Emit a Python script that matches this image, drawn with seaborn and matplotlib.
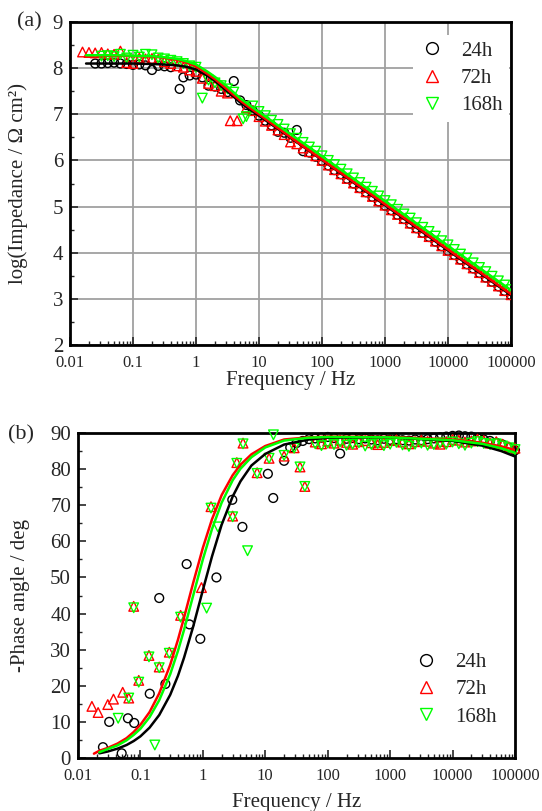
import matplotlib
matplotlib.use("Agg")
import matplotlib.pyplot as plt
import numpy as np
import pandas as pd
import seaborn as sns
from matplotlib.ticker import LogLocator, MultipleLocator, FixedLocator, FixedFormatter, NullFormatter
from matplotlib.lines import Line2D

# ---------------- data ----------------
SERIES = ["24h", "72h", "168h"]
COLORS = ["#000000", "#ff0000", "#00ff00"]
MARKERS = ["o", "^", "v"]

# shared high-frequency grid (Hz)
F_HF = [63.1, 79.4, 100, 126, 158, 200, 251, 316, 398, 501, 631, 794, 1000, 1260, 1580,
        2000, 2510, 3160, 3980, 5010, 6310, 7940, 10000, 12600, 15800, 20000, 25100,
        31600, 39800, 50100, 63100, 79400, 100000]

# ---- (a) log|Z| data ----
imp_lf_f_24 = [0.0251, 0.0316, 0.0398, 0.0501, 0.0631, 0.0794, 0.1, 0.126, 0.158, 0.2, 0.251,
               0.316, 0.398, 0.55, 0.631, 0.794, 1, 1.26, 1.58, 2, 2.51, 3.16, 3.98, 5.01,
               6.31, 7.94, 10, 12.6, 15.8, 20, 25.1, 31.6, 39.8, 50.1]
imp_lf_24 = [8.10, 8.10, 8.11, 8.12, 8.10, 8.09, 8.07, 8.08, 8.06, 7.96, 8.05, 8.04, 8.02, 7.55,
             7.80, 7.84, 7.86, 7.80, 7.62, 7.60, 7.55, 7.48, 7.72, 7.30, 7.20, 7.08, 6.97, 6.86,
             6.76, 6.62, 6.60, 6.49, 6.66, 6.20]
imp_hf_24 = [6.17, 6.08, 5.99, 5.89, 5.79, 5.70, 5.60, 5.50, 5.40, 5.31, 5.21, 5.11, 5.02, 4.92,
             4.82, 4.73, 4.63, 4.53, 4.43, 4.34, 4.24, 4.14, 4.04, 3.95, 3.85, 3.75, 3.66, 3.56,
             3.46, 3.37, 3.27, 3.17, 3.08]

imp_lf_f_72 = [0.0158, 0.02, 0.0251, 0.0316, 0.0398, 0.0501, 0.0631, 0.0794, 0.1, 0.126, 0.158,
               0.2, 0.251, 0.316, 0.398, 0.501, 0.631, 0.794, 1, 1.26, 1.58, 2, 2.51, 3.16, 3.5,
               4.5, 6.31, 7.94, 10, 12.6, 15.8, 20, 25.1, 31.6, 39.8, 50.1]
imp_lf_72 = [8.35, 8.34, 8.33, 8.34, 8.31, 8.30, 8.37, 8.12, 8.10, 8.22, 8.20, 8.21, 8.19, 8.14,
             8.10, 8.05, 8.02, 7.96, 7.93, 7.78, 7.67, 7.62, 7.50, 7.46, 6.86, 6.86, 7.14, 7.08,
             6.95, 6.85, 6.76, 6.66, 6.56, 6.40, 6.36, 6.27]
imp_hf_72 = [6.19, 6.10, 6.00, 5.90, 5.80, 5.71, 5.61, 5.51, 5.41, 5.32, 5.22, 5.12, 5.03, 4.93,
             4.83, 4.74, 4.64, 4.54, 4.44, 4.35, 4.25, 4.15, 4.05, 3.96, 3.86, 3.76, 3.67, 3.57,
             3.47, 3.38, 3.28, 3.18, 3.09]

imp_lf_f_168 = [0.0316, 0.0398, 0.0501, 0.0631, 0.0794, 0.1, 0.126, 0.158, 0.2, 0.251, 0.316,
                0.398, 0.501, 0.631, 0.794, 1, 1.26, 1.58, 2, 2.51, 3.16, 3.98, 5.6, 6.31, 7.94,
                10, 12.6, 15.8, 20, 25.1, 31.6, 39.8, 50.1]
imp_lf_168 = [8.26, 8.27, 8.25, 8.30, 8.22, 8.28, 8.24, 8.30, 8.29, 8.22, 8.20, 8.17, 8.14, 8.10,
              8.05, 8.02, 7.35, 7.74, 7.68, 7.62, 7.55, 7.48, 6.90, 6.95, 7.18, 7.06, 6.97, 6.87,
              6.78, 6.68, 6.58, 6.48, 6.39]
imp_hf_168 = [6.29, 6.20, 6.10, 6.00, 5.91, 5.81, 5.71, 5.62, 5.52, 5.42, 5.33, 5.23, 5.13, 5.04,
              4.94, 4.84, 4.75, 4.65, 4.55, 4.46, 4.36, 4.26, 4.17, 4.07, 3.97, 3.88, 3.78, 3.68,
              3.59, 3.49, 3.39, 3.30, 3.20]

# ---- (a) fitted curves ----
F_FIT_Z = [0.018, 0.05, 0.1, 0.2, 0.3, 0.5, 0.7, 1, 1.5, 2, 3, 5, 7, 10, 20, 50, 100, 1000,
           10000, 100000]
fit_z_24 = [8.10, 8.10, 8.10, 8.09, 8.08, 8.06, 8.03, 7.97, 7.84, 7.72, 7.52, 7.26, 7.11, 6.97,
            6.68, 6.30, 6.01, 5.03, 4.05, 3.08]
fit_z_72 = [8.27, 8.27, 8.26, 8.25, 8.23, 8.18, 8.12, 8.04, 7.88, 7.76, 7.56, 7.30, 7.15, 7.00,
            6.70, 6.31, 6.02, 5.05, 4.07, 3.10]
fit_z_168 = [8.28, 8.28, 8.27, 8.26, 8.24, 8.20, 8.15, 8.08, 7.93, 7.81, 7.62, 7.35, 7.20, 7.05,
             6.76, 6.38, 6.09, 5.12, 4.15, 3.19]

# ---- (b) -phase data ----
ph_lf_f_24 = [0.0251, 0.0316, 0.0501, 0.0631, 0.0794, 0.141, 0.2, 0.251, 0.55, 0.61, 0.91, 1.65,
              2.96, 4.3, 11, 13.4, 20, 25.1, 31.6, 39.8, 50.1]
ph_lf_24 = [3.0, 10.0, 1.3, 11.0, 9.7, 17.8, 44.3, 20.5, 53.7, 37.0, 33.0, 50.0, 71.5, 64.0, 78.7,
            72.0, 82.3, 86.0, 87.2, 87.8, 88.3]
ph_hf_24 = [88.5, 88.7, 88.9, 88.6, 84.3, 88.4, 88.6, 88.3, 88.5, 88.2, 88.0, 88.4, 88.1, 88.3,
            88.0, 87.9, 88.2, 88.0, 88.3, 88.5, 88.8, 89.0, 89.2, 89.3, 89.1, 89.0, 88.6, 88.2,
            87.8, 87.3, 86.8, 86.0, 85.2]

ph_lf_f_72 = [0.0167, 0.021, 0.030, 0.037, 0.052, 0.065, 0.078, 0.094, 0.137, 0.2, 0.29, 0.44,
              0.95, 1.35, 3.0, 3.5, 4.4, 7.4, 11.5, 20, 29, 36, 43]
ph_lf_72 = [14.3, 12.6, 14.8, 16.3, 18.2, 16.6, 42.0, 21.5, 28.4, 25.2, 29.3, 39.5, 47.2, 69.6,
            67.0, 81.8, 87.2, 79.0, 83.0, 83.6, 85.9, 80.6, 75.2]
ph_hf_72 = [87.5, 87.0, 87.8, 87.2, 88.0, 87.4, 86.9, 87.6, 87.9, 87.3, 86.8, 87.4, 87.9, 88.1,
            87.5, 87.0, 87.6, 88.0, 87.7, 87.2, 86.9, 87.6, 88.2, 88.0, 87.5, 87.8, 88.3, 87.9,
            87.2, 87.6, 86.9, 86.2, 85.8]

ph_lf_f_168 = [0.044, 0.065, 0.078, 0.094, 0.137, 0.17, 0.2, 0.29, 0.44, 1.15, 1.35, 1.74, 3.0,
               3.5, 4.4, 5.2, 7.4, 11.5, 13.5, 20, 29, 36, 43]
ph_lf_168 = [11.0, 16.6, 41.6, 21.0, 28.0, 3.6, 25.0, 29.0, 39.0, 41.5, 69.2, 64.0, 66.8, 81.6,
             87.0, 57.4, 78.8, 83.0, 89.5, 83.8, 85.8, 80.6, 75.2]
ph_hf_168 = [87.0, 86.5, 87.2, 86.8, 87.5, 86.6, 86.9, 87.3, 86.4, 86.8, 87.1, 86.5, 86.9, 87.4,
             86.7, 86.3, 86.9, 87.2, 86.6, 86.8, 87.3, 86.9, 87.5, 87.0, 86.6, 87.2, 87.6, 87.1,
             86.8, 87.0, 86.4, 85.9, 85.4]

# ---- (b) fitted curves ----
F_FIT_P = [0.018, 0.022, 0.03, 0.043, 0.06, 0.078, 0.1, 0.14, 0.2, 0.3, 0.4, 0.5, 0.7, 1, 1.4, 2,
           3, 4, 6, 10, 20, 50, 100, 1000, 10000, 30000, 60000, 100000]
fit_p_24 = [np.nan, 1.3, 1.8, 2.6, 3.6, 4.7, 6.0, 8.4, 11.9, 17.5, 22.8, 27.8, 36.4, 46.5, 55.8,
            64.6, 72.4, 76.6, 81.0, 84.2, 86.8, 88.2, 88.7, 88.8, 87.8, 86.5, 85.0, 83.5]
fit_p_72 = [1.2, 2.0, 2.8, 4.0, 5.5, 7.2, 9.2, 12.7, 17.9, 25.8, 32.8, 38.9, 48.5, 58.2, 66.1,
            72.8, 78.3, 81.2, 84.1, 86.4, 88.2, 88.8, 89.0, 88.9, 88.2, 87.3, 86.3, 85.3]
fit_p_168 = [np.nan, 1.6, 2.5, 3.5, 4.9, 6.4, 8.1, 11.3, 16.0, 23.2, 29.7, 35.5, 45.0, 55.0, 63.4,
             70.7, 76.9, 80.1, 83.3, 86.0, 87.9, 88.7, 88.9, 88.8, 88.0, 87.0, 85.8, 84.5]

XTICKS = [0.01, 0.1, 1, 10, 100, 1000, 10000, 100000]
XTICKLABELS = ["0.01", "0.1", "1", "10", "100", "1000", "10000", "100000"]

# ---------------- style ----------------
sns.set_style("ticks")
plt.rcParams['font.family'] = ['Liberation Serif', 'DejaVu Serif']
plt.rcParams['axes.linewidth'] = 2.0
plt.rcParams['xtick.direction'] = 'in'
plt.rcParams['ytick.direction'] = 'in'

fig = plt.figure(figsize=(5.42, 8.11), dpi=100)
ax1 = fig.add_axes([70/542, 1-345/811, 441/542, 323/811])
ax2 = fig.add_axes([78/542, 1-758/811, 437/542, 325/811])

imp_lf_f = [imp_lf_f_24, imp_lf_f_72, imp_lf_f_168]
imp_lf = [imp_lf_24, imp_lf_72, imp_lf_168]
imp_hf = [imp_hf_24, imp_hf_72, imp_hf_168]
fit_z = [fit_z_24, fit_z_72, fit_z_168]
ph_lf_f = [ph_lf_f_24, ph_lf_f_72, ph_lf_f_168]
ph_lf = [ph_lf_24, ph_lf_72, ph_lf_168]
ph_hf = [ph_hf_24, ph_hf_72, ph_hf_168]
fit_p = [fit_p_24, fit_p_72, fit_p_168]
sizes = [40, 48, 48]

for i, name in enumerate(SERIES):
    d1 = pd.DataFrame({"f": imp_lf_f[i] + F_HF, "v": imp_lf[i] + imp_hf[i]})
    sns.scatterplot(data=d1, x="f", y="v", ax=ax1, marker=MARKERS[i], s=sizes[i],
                    facecolor="none", edgecolor=COLORS[i], linewidth=1.0, zorder=3)
    d2 = pd.DataFrame({"f": ph_lf_f[i] + F_HF, "v": ph_lf[i] + ph_hf[i]})
    sns.scatterplot(data=d2, x="f", y="v", ax=ax2, marker=MARKERS[i], s=sizes[i],
                    facecolor="none", edgecolor=COLORS[i], linewidth=1.0, zorder=3,
                    clip_on=False)

for i, name in enumerate(SERIES):
    sns.lineplot(x=F_FIT_Z, y=fit_z[i], ax=ax1, color=COLORS[i], lw=1.8, sort=False,
                 estimator=None, zorder=4)
    sns.lineplot(x=F_FIT_P, y=fit_p[i], ax=ax2, color=COLORS[i], lw=1.8, sort=False,
                 estimator=None, zorder=4)

for ax, xpad, lpad in ((ax1, 7.5, 0), (ax2, 7.5, 6)):
    ax.set_xscale("log")
    ax.set_xlim(0.01, 100000)
    ax.xaxis.set_major_locator(FixedLocator(XTICKS))
    ax.xaxis.set_major_formatter(FixedFormatter(XTICKLABELS))
    ax.xaxis.set_minor_locator(LogLocator(base=10, subs=range(2, 10), numticks=20))
    ax.xaxis.set_minor_formatter(NullFormatter())
    ax.tick_params(axis='x', which='major', labelsize=12, length=6, width=1.2, pad=xpad,
                   top=False)
    ax.tick_params(axis='x', which='minor', length=3, width=1.0, top=False)
    ax.tick_params(axis='y', which='major', labelsize=15, length=6, width=1.2, pad=5,
                   right=False)
    ax.tick_params(axis='y', which='minor', length=3, width=1.0, right=False)
    for s in ax.spines.values():
        s.set_visible(True)
        s.set_linewidth(2.0)
        s.set_color("black")
    ax.set_xlabel("Frequency / Hz", fontsize=15, labelpad=lpad)

ax1.set_ylim(2, 9)
ax1.yaxis.set_major_locator(MultipleLocator(1))
ax1.yaxis.set_minor_locator(MultipleLocator(0.5))
ax1.grid(True, which='major', color='#a0a0a0', lw=1.3)
ax1.set_axisbelow(True)
ax1.set_ylabel("log(Impedance / Ω cm²)", fontsize=15)
ax1.yaxis.set_label_coords(-0.095, 0.5)

ax2.set_ylim(0, 90)
ax2.yaxis.set_major_locator(MultipleLocator(10))
ax2.yaxis.set_minor_locator(MultipleLocator(5))
ax2.grid(False)
ax2.set_ylabel("-Phase angle / deg", fontsize=15)
ax2.yaxis.set_label_coords(-0.11, 0.5)

def handles():
    return [Line2D([], [], linestyle='none', marker=MARKERS[i], markersize=8.5,
                   markerfacecolor='none', markeredgecolor=COLORS[i], markeredgewidth=1.0)
            for i in range(3)]

leg1 = ax1.legend(handles(), SERIES, loc='upper left', bbox_to_anchor=(0.778, 0.96),
                  frameon=True, framealpha=1, edgecolor='none', facecolor='white',
                  fontsize=15, handlelength=1.2, handletextpad=0.8, labelspacing=0.37,
                  borderpad=0.3, borderaxespad=0.0, fancybox=False)
leg1.set_zorder(5)
ax2.legend(handles(), SERIES, loc='upper left', bbox_to_anchor=(0.754, 0.344),
           frameon=False, fontsize=15, handlelength=1.2, handletextpad=0.8,
           labelspacing=0.37, borderpad=0.3, borderaxespad=0.0)

fig.text(17/542, 1-22/811, "(a)", fontsize=16, ha='left', va='center')
fig.text(8/542, 1-435/811, "(b)", fontsize=16, ha='left', va='center')

fig.savefig("out.png", dpi=100)
